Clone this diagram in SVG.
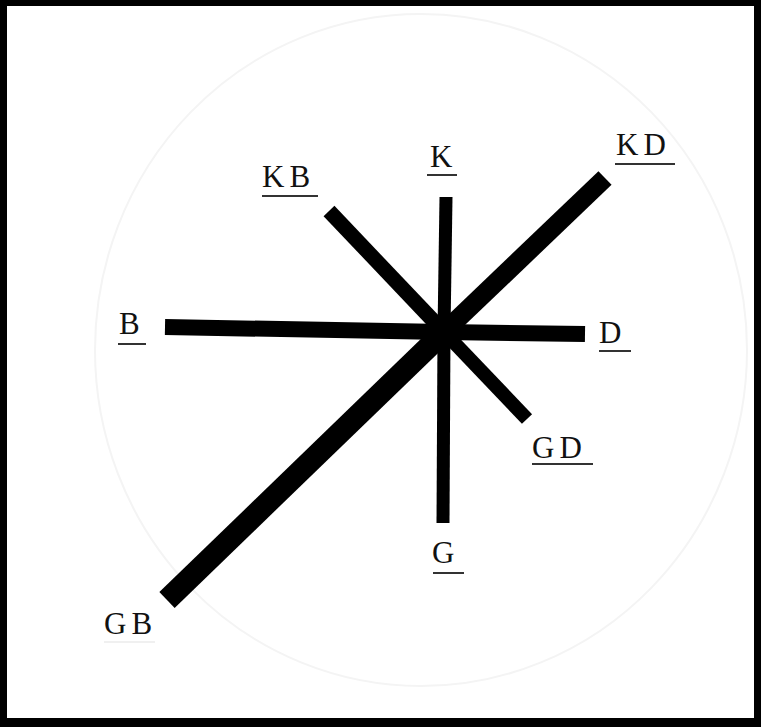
<svg xmlns="http://www.w3.org/2000/svg" width="761" height="727" viewBox="0 0 761 727">
<style>
.lbl{font-family:"Liberation Serif","Times New Roman",serif;font-size:31px;fill:#111;letter-spacing:5px}
.ul{stroke:#333;stroke-width:2}
.sp{stroke:#000;stroke-linecap:butt;fill:none}
</style>
<rect x="0" y="0" width="761" height="727" fill="#000"/>
<rect x="7" y="6" width="747" height="712" fill="#fff"/>
<ellipse cx="421" cy="350" rx="326" ry="336" fill="none" stroke="#f4f4f4" stroke-width="2"/>
<g id="connectors">
<line class="sp" x1="444" y1="332" x2="446" y2="197" stroke-width="13"/>
<line class="sp" x1="444" y1="332" x2="443" y2="523" stroke-width="13"/>
<line class="sp" x1="444" y1="332" x2="165" y2="327" stroke-width="16"/>
<line class="sp" x1="444" y1="332" x2="585" y2="334" stroke-width="16"/>
<line class="sp" x1="444" y1="332" x2="329" y2="211" stroke-width="15"/>
<line class="sp" x1="444" y1="332" x2="605" y2="178" stroke-width="19"/>
<line class="sp" x1="444" y1="332" x2="527" y2="419" stroke-width="14"/>
<line class="sp" x1="444" y1="332" x2="167" y2="600" stroke-width="22"/>
</g>
<g id="node-K"><text class="lbl" x="430" y="167">K</text><line class="ul" x1="427" y1="175" x2="457" y2="175"/></g>
<g id="node-KB"><text class="lbl" x="262" y="187">KB</text><line class="ul" x1="262" y1="196" x2="318" y2="196"/></g>
<g id="node-KD"><text class="lbl" x="616" y="155">KD</text><line class="ul" x1="615" y1="164" x2="675" y2="164"/></g>
<g id="node-B"><text class="lbl" x="119" y="334">B</text><line class="ul" x1="118" y1="344" x2="146" y2="344"/></g>
<g id="node-D"><text class="lbl" x="599" y="343">D</text><line class="ul" x1="599" y1="351" x2="631" y2="351"/></g>
<g id="node-GD"><text class="lbl" x="532" y="458">GD</text><line class="ul" x1="532" y1="464" x2="593" y2="464"/></g>
<g id="node-G"><text class="lbl" x="432" y="563">G</text><line class="ul" x1="433" y1="573" x2="464" y2="573"/></g>
<g id="node-GB"><text class="lbl" x="104" y="634">GB</text><line x1="104" y1="642" x2="155" y2="642" stroke="#f0f0f0" stroke-width="2"/></g>
</svg>
